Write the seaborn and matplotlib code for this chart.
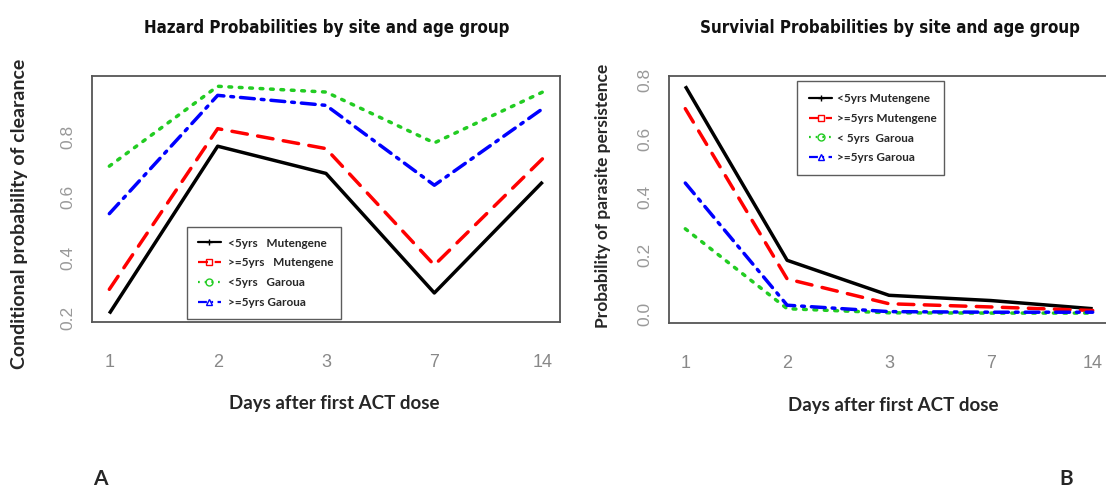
import numpy as np
import pandas as pd
import matplotlib
matplotlib.use("Agg")
import matplotlib.pyplot as plt
import seaborn as sns
from matplotlib.lines import Line2D

# ---------------- data ----------------
days = ["1", "2", "3", "7", "14"]
groups = ["<5yrs Mutengene", ">=5yrs Mutengene", "<5yrs Garoua", ">=5yrs Garoua"]

hazard_lt5_mutengene = [0.215, 0.768, 0.678, 0.283, 0.650]
hazard_ge5_mutengene = [0.295, 0.826, 0.760, 0.375, 0.727]
hazard_lt5_garoua = [0.702, 0.966, 0.947, 0.779, 0.947]
hazard_ge5_garoua = [0.545, 0.936, 0.903, 0.639, 0.892]

surv_lt5_mutengene = [0.780, 0.183, 0.063, 0.045, 0.017]
surv_ge5_mutengene = [0.703, 0.119, 0.034, 0.023, 0.011]
surv_lt5_garoua = [0.291, 0.017, 0.003, 0.002, 0.002]
surv_ge5_garoua = [0.448, 0.029, 0.007, 0.005, 0.005]

legend_labels_A = ["<5yrs   Mutengene", ">=5yrs   Mutengene", "<5yrs   Garoua", ">=5yrs Garoua"]
legend_labels_B = ["<5yrs Mutengene", ">=5yrs Mutengene", "< 5yrs  Garoua", ">=5yrs Garoua"]

title_A = "Hazard Probabilities by site and age group"
title_B = "Survivial Probabilities by site and age group"
ylabel_A = "Conditional probability of clearance"
ylabel_B = "Probability of parasite persistence"
xlabel = "Days after first ACT dose"


def long_df(series):
    rows = []
    for g, vals in zip(groups, series):
        for i, v in enumerate(vals):
            rows.append({"pos": i, "value": v, "group": g})
    return pd.DataFrame(rows)


df_A = long_df([hazard_lt5_mutengene, hazard_ge5_mutengene, hazard_lt5_garoua, hazard_ge5_garoua])
df_B = long_df([surv_lt5_mutengene, surv_ge5_mutengene, surv_lt5_garoua, surv_ge5_garoua])

# ---------------- styles ----------------
sns.set_style("white")
plt.rcParams["font.family"] = ["Lato", "DejaVu Sans"]

palette = {groups[0]: "#000000", groups[1]: "#ff0000", groups[2]: "#22cc22", groups[3]: "#0000ff"}
dashes = {groups[0]: "", groups[1]: (4.5, 3.0), groups[2]: (0.8, 2.2), groups[3]: (4.0, 2.0, 0.8, 2.0)}
markers_leg = ["+", "s", "o", "^"]

W, H = 1106, 490
fig = plt.figure(figsize=(W / 100, H / 100), dpi=100)

axA = fig.add_axes([92 / W, 1 - 322 / H, 468 / W, 246 / H])
axB = fig.add_axes([669 / W, 1 - 323 / H, 440 / W, 247 / H])

tick_font = ["Liberation Sans", "DejaVu Sans"]

for ax, df, ylim in [(axA, df_A, (0.187, 1.0)), (axB, df_B, (-0.032, 0.815))]:
    sns.lineplot(data=df, x="pos", y="value", hue="group", style="group",
                 palette=palette, dashes=dashes, linewidth=2.5, legend=False, ax=ax,
                 sort=False)
    for ln in ax.get_lines():
        ln.set_solid_capstyle("butt")
        ln.set_dash_capstyle("round")
    ax.set_xlim(-0.16, 4.16)
    ax.set_ylim(*ylim)
    ax.set_xticks(range(len(days)))
    ax.set_xticklabels(days, color="#888888", fontsize=13, family=tick_font,
                       fontstretch="condensed")
    ax.set_xlabel("")
    ax.set_ylabel("")
    for sp in ax.spines.values():
        sp.set_color("#555555")
        sp.set_linewidth(1.3)
    ax.tick_params(axis="x", direction="out", length=8, width=1.2, color="#777777", pad=15)
    ax.tick_params(axis="y", direction="out", length=5, width=1.2, color="#777777", pad=7,
                   labelsize=12.5, labelcolor="#999999")

axA.set_yticks([0.2, 0.4, 0.6, 0.8])
axB.set_yticks([0.0, 0.2, 0.4, 0.6, 0.8])
for ax in (axA, axB):
    for lab in ax.get_yticklabels():
        lab.set_rotation(90)
        lab.set_va("center")
        lab.set_family(tick_font)


def make_handles(labels):
    hs = []
    for g, lab, mk in zip(groups, labels, markers_leg):
        ls = "-" if dashes[g] == "" else (0, dashes[g])
        hs.append(Line2D([0], [0], color=palette[g], lw=1.6, linestyle=ls,
                         marker=mk, markersize=5, markerfacecolor="none",
                         markeredgecolor=palette[g], label=lab))
    return hs


legA = axA.legend(handles=make_handles(legend_labels_A), loc="upper left",
                  bbox_to_anchor=(187 / W, 1 - 322 / H, 154 / W, 95 / H),
                  bbox_transform=fig.transFigure, mode="expand", borderaxespad=0,
                  frameon=True, fancybox=False,
                  prop={"weight": "bold", "size": 8.5}, handlelength=2.0,
                  labelspacing=0.75, borderpad=0.9, handletextpad=0.6)
legA.get_frame().set_edgecolor("#333333")
legA.get_frame().set_linewidth(1.0)

legB = axB.legend(handles=make_handles(legend_labels_B), loc="upper left",
                  bbox_to_anchor=(797 / W, 1 - 186 / H, 147 / W, 105 / H),
                  bbox_transform=fig.transFigure, mode="expand", borderaxespad=0,
                  frameon=True, fancybox=False,
                  prop={"weight": "bold", "size": 8.5}, handlelength=2.0,
                  labelspacing=0.75, borderpad=1.0, handletextpad=0.4)
legB.get_frame().set_edgecolor("#333333")
legB.get_frame().set_linewidth(1.0)

# titles and labels
title_font = ["DejaVu Sans"]
fig.text(327 / W, 1 - 28 / H, title_A, ha="center", va="center", fontsize=12.2,
         fontweight="bold", family=title_font, fontstretch="condensed", color="#111111")
fig.text(890 / W, 1 - 28 / H, title_B, ha="center", va="center", fontsize=12.2,
         fontweight="bold", family=title_font, fontstretch="condensed", color="#111111")
fig.text(20 / W, 1 - 214 / H, ylabel_A, rotation=90, ha="center", va="center",
         fontsize=14, fontweight="bold")
fig.text(603 / W, 1 - 196 / H, ylabel_B, rotation=90, ha="center", va="center",
         fontsize=12.5, fontweight="bold")
fig.text(334 / W, 1 - 403 / H, xlabel, ha="center", va="center", fontsize=13.5, fontweight="bold")
fig.text(893 / W, 1 - 405 / H, xlabel, ha="center", va="center", fontsize=13.5, fontweight="bold")
fig.text(100 / W, 1 - 479 / H, "A", ha="center", va="center", fontsize=15, fontweight="bold")
fig.text(1066 / W, 1 - 479 / H, "B", ha="center", va="center", fontsize=15, fontweight="bold")

fig.savefig("out.png", dpi=100)
